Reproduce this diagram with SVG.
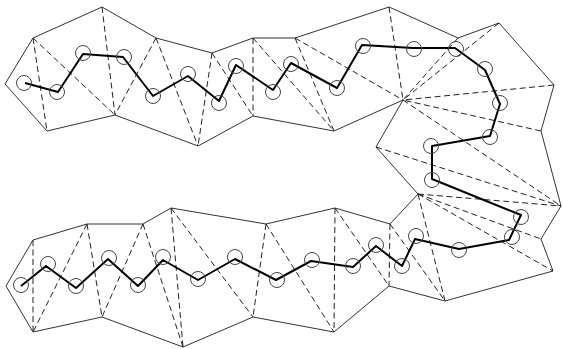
<svg xmlns="http://www.w3.org/2000/svg" width="563" height="349" viewBox="0 0 563 349">
<style>
.o{fill:none;stroke:#333;stroke-width:1}
.d{fill:none;stroke:#222;stroke-width:1;stroke-dasharray:6 3.5}
.p{fill:none;stroke:#000;stroke-width:2;stroke-linejoin:round}
.c{fill:none;stroke:#444;stroke-width:1}
</style>
<rect width="563" height="349" fill="#fff"/>
<g id="outline"><path class="o" d="M5 84L33 38L102 7L156 38L212 53L253 38L295 38L389 7L458 38L499 23L554 85L541 131L561 206L541 239L553 271L445 301L389 286L334 332L253 317L183 347L102 317L33 332L6 286L33 240L87 224L143 224L171 208L266 224L335 208L390 224L418 194L376 147L403 100L334 131L253 116L198 146L115 115L47 131Z"/></g>
<g id="triangulation"><path class="d" d="M33 38L47 131M33 38L115 115M102 7L115 115M156 38L115 115M156 38L198 146M212 53L198 146M212 53L253 116M253 38L253 116M253 38L334 131M295 38L334 131M295 38L403 100M389 7L403 100M458 38L403 100M499 23L403 100M554 85L403 100M541 131L403 100M403 100L561 206M376 147L561 206M418 194L561 206M418 194L541 239M418 194L553 271M418 194L445 301M390 224L445 301M390 224L389 286M335 208L389 286M335 208L334 332M266 224L334 332M266 224L253 317M171 208L253 317M171 208L183 347M143 224L183 347M143 224L102 317M87 224L102 317M87 224L33 332M33 240L33 332"/></g>
<g id="connectors"><path class="p" d="M25 83L58 92L83 54L123 57L153 96L188 76L219 101L236 65L273 90L291 63L337 88L362 45L413 48L455 48L485 70L500 104L490 136L432 146L432 179L521 215L509 240L459 249L415 239L402 266L376 246L353 267L311 261L276 280L235 259L198 280L163 260L138 286L108 259L76 288L46 266L21 286"/></g>
<g id="n1"><circle class="c" cx="24" cy="83" r="7.5"/></g>
<g id="n2"><circle class="c" cx="57" cy="92" r="7.5"/></g>
<g id="n3"><circle class="c" cx="83" cy="53" r="7.5"/></g>
<g id="n4"><circle class="c" cx="124" cy="57" r="7.5"/></g>
<g id="n5"><circle class="c" cx="153" cy="96" r="7.5"/></g>
<g id="n6"><circle class="c" cx="188" cy="74" r="7.5"/></g>
<g id="n7"><circle class="c" cx="219" cy="103" r="7.5"/></g>
<g id="n8"><circle class="c" cx="236" cy="66" r="7.5"/></g>
<g id="n9"><circle class="c" cx="273" cy="92" r="7.5"/></g>
<g id="n10"><circle class="c" cx="291" cy="64" r="7.5"/></g>
<g id="n11"><circle class="c" cx="337" cy="88" r="7.5"/></g>
<g id="n12"><circle class="c" cx="363" cy="46" r="7.5"/></g>
<g id="n13"><circle class="c" cx="414" cy="49" r="7.5"/></g>
<g id="n14"><circle class="c" cx="456" cy="49" r="7.5"/></g>
<g id="n15"><circle class="c" cx="485" cy="69" r="7.5"/></g>
<g id="n16"><circle class="c" cx="500" cy="103" r="7.5"/></g>
<g id="n17"><circle class="c" cx="490" cy="137" r="7.5"/></g>
<g id="n18"><circle class="c" cx="431" cy="146" r="7.5"/></g>
<g id="n19"><circle class="c" cx="432" cy="180" r="7.5"/></g>
<g id="n20"><circle class="c" cx="521" cy="217" r="7.5"/></g>
<g id="n21"><circle class="c" cx="512" cy="237" r="7.5"/></g>
<g id="n22"><circle class="c" cx="459" cy="250" r="7.5"/></g>
<g id="n23"><circle class="c" cx="416" cy="236" r="7.5"/></g>
<g id="n24"><circle class="c" cx="402" cy="266" r="7.5"/></g>
<g id="n25"><circle class="c" cx="376" cy="245" r="7.5"/></g>
<g id="n26"><circle class="c" cx="353" cy="266" r="7.5"/></g>
<g id="n27"><circle class="c" cx="312" cy="260" r="7.5"/></g>
<g id="n28"><circle class="c" cx="277" cy="280" r="7.5"/></g>
<g id="n29"><circle class="c" cx="235" cy="257" r="7.5"/></g>
<g id="n30"><circle class="c" cx="198" cy="279" r="7.5"/></g>
<g id="n31"><circle class="c" cx="163" cy="257" r="7.5"/></g>
<g id="n32"><circle class="c" cx="138" cy="285" r="7.5"/></g>
<g id="n33"><circle class="c" cx="109" cy="258" r="7.5"/></g>
<g id="n34"><circle class="c" cx="76" cy="286" r="7.5"/></g>
<g id="n35"><circle class="c" cx="48" cy="264" r="7.5"/></g>
<g id="n36"><circle class="c" cx="21" cy="285" r="7.5"/></g>
</svg>
